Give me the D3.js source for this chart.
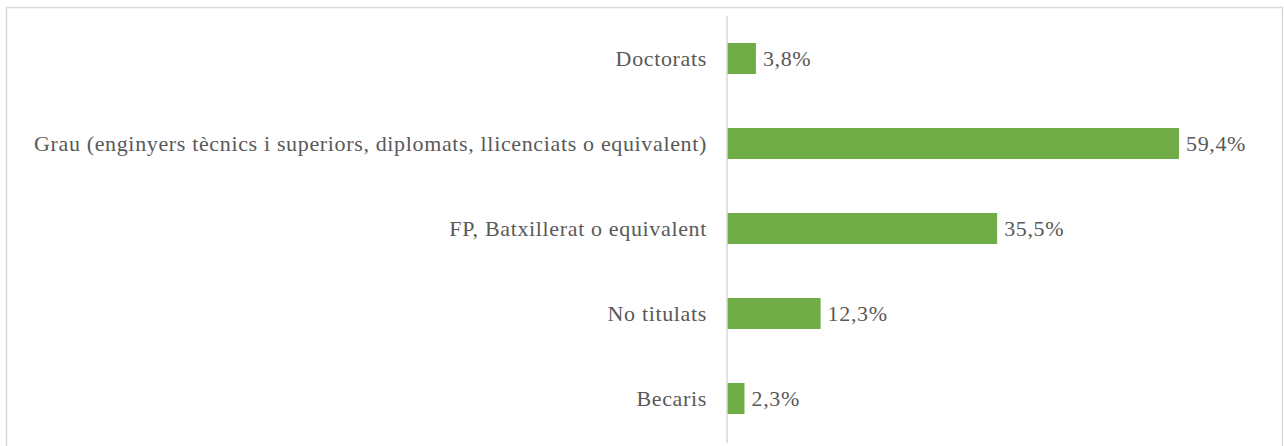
<!DOCTYPE html>
<html>
<head>
	<meta charset="utf-8">
	<style type="text/css">
		body {
			margin: 0;
			background: #fff;
		}
		svg text {
			font-family: "Liberation Serif", "DejaVu Serif", serif;
			font-size: 22px;
			letter-spacing: 0.65px;
			fill: #595959;
		}
	</style>
	<script src="https://d3js.org/d3.v7.min.js"></script>
</head>
<body>
<div class="container"></div>
<script type="text/javascript">
	var categories = ["Doctorats",
		"Grau (enginyers tècnics i superiors, diplomats, llicenciats o equivalent)",
		"FP, Batxillerat o equivalent",
		"No titulats",
		"Becaris"];
	var values = [3.8, 59.4, 35.5, 12.3, 2.3];
	var valueLabels = ["3,8%", "59,4%", "35,5%", "12,3%", "2,3%"];

	var svg = d3.select(".container").append("svg")
			.attr("width", 1284)
			.attr("height", 446);

	// outer frame
	svg.append("rect")
		.attr("x", 6.5)
		.attr("y", 7.5)
		.attr("width", 1276)
		.attr("height", 460)
		.attr("fill", "none")
		.attr("stroke", "#d9d9d9")
		.attr("stroke-width", 1.5);

	var margin = {top: 16, left: 727},
		width = 452 / 59.4 * 100,
		height = 425;

	var x = d3.scaleLinear().domain([0, 100]).range([0, width]);
	var y = d3.scaleBand().domain(categories).range([0, height]).paddingInner(0.635).paddingOuter(0.3175);

	var g = svg.append("g")
		.attr("transform", "translate(" + margin.left + "," + margin.top + ")");

	g.selectAll(".bar")
		.data(values)
		.enter().append("rect")
			.attr("class", "bar")
			.attr("x", x(0))
			.attr("y", function(d, i) { return y(categories[i]); })
			.attr("width", function(d) { return x(d) - x(0); })
			.attr("height", y.bandwidth())
			.attr("fill", "#70ad47");

	var axisY = d3.axisLeft(y).tickSize(0).tickPadding(20);
	var ay = g.append("g").call(axisY).attr("font-family", null).attr("font-size", null);
	ay.select(".domain").attr("stroke", "#d9d9d9").attr("stroke-width", 1.5)
		.attr("d", "M0,0V" + (height + 2));
	ay.selectAll("text").attr("fill", null);

	g.selectAll(".val")
		.data(values)
		.enter().append("text")
			.attr("class", "val")
			.attr("x", function(d) { return x(d) + 7; })
			.attr("y", function(d, i) { return y(categories[i]) + y.bandwidth() / 2; })
			.attr("dy", "0.32em")
			.text(function(d, i) { return valueLabels[i]; });
</script>
</body>
</html>
